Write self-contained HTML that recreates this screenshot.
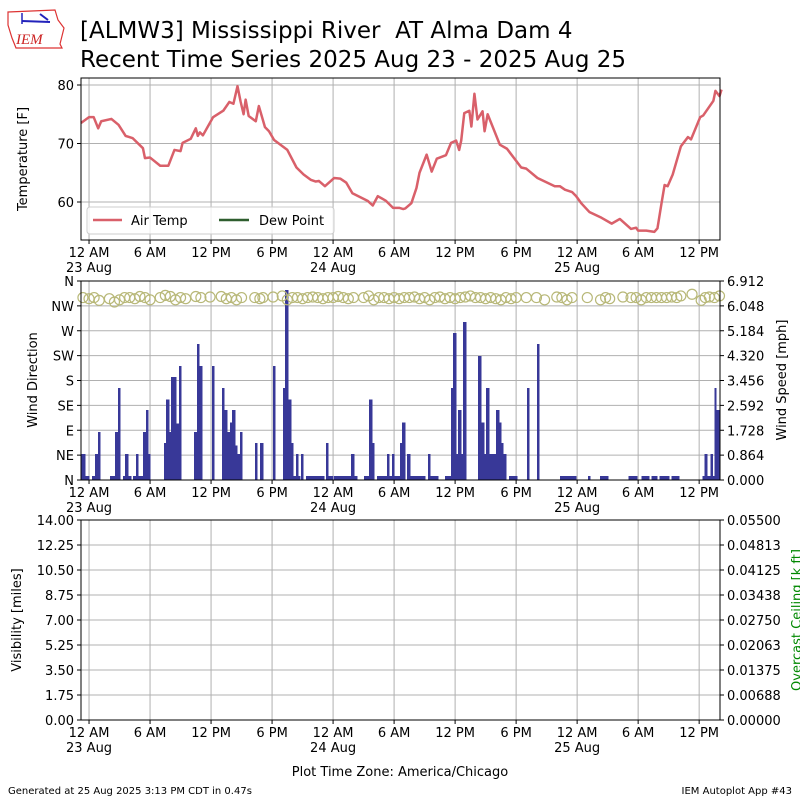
<!DOCTYPE html>
<html><head><meta charset="utf-8"><style>
body{margin:0;background:#fff;width:800px;height:800px;overflow:hidden}
svg{font-family:"DejaVu Sans","Liberation Sans",sans-serif}
</style></head><body>
<svg id="c" width="800" height="800" viewBox="0 0 800 800">
<g>
<path d="M8,12 L55,10 L58,20 L64,28 L60,44 L62,48 L16,48 L12,38 L8,25 Z" fill="#fff" stroke="#d33" stroke-width="1.2"/>
<line x1="22" y1="21" x2="50" y2="22" stroke="#22b" stroke-width="2"/>
<line x1="22" y1="13" x2="22" y2="24" stroke="#22b" stroke-width="1.5"/>
<line x1="40" y1="14" x2="48" y2="20" stroke="#22b" stroke-width="2"/>
<text x="16" y="44" font-family="Liberation Serif,serif" font-style="italic" font-size="15" fill="#c22">IEM</text>
</g>
<text x="80" y="38" font-size="23" style="white-space:pre">[ALMW3] Mississippi River&#160; AT Alma Dam 4</text>
<text x="80" y="67" font-size="23">Recent Time Series 2025 Aug 23 - 2025 Aug 25</text>
<text x="400" y="776" font-size="13" text-anchor="middle">Plot Time Zone: America/Chicago</text>
<text x="8" y="794" font-size="10">Generated at 25 Aug 2025 3:13 PM CDT in 0.47s</text>
<text x="792" y="794" font-size="10" text-anchor="end">IEM Autoplot App #43</text>
</svg>
<script>
const tempHours=[-0.79,0,0.46,0.9,1.2,2.2,2.9,3.6,4.3,5.3,5.5,6,7,7.8,8.4,9,9.2,10,10.5,10.7,10.9,11.2,12.2,13.2,13.8,14.2,14.6,14.9,15.2,15.4,15.7,16.4,16.7,17.3,17.7,18.2,19.5,20.4,21.1,21.8,22.3,22.6,23.2,24.1,24.7,25.3,25.9,27.4,27.9,28.4,29.2,29.9,30.5,30.9,31.1,31.7,32.2,32.5,33.2,33.7,34.2,35.1,35.6,36.1,36.4,36.6,36.9,37.4,37.6,37.9,38.2,38.7,38.9,39.2,40.4,41.1,41.8,42.5,43,44.1,45.8,46.3,46.8,47.5,47.9,48.4,49.2,50.4,51.4,52.2,53.3,53.8,54,54.8,55.6,55.9,56.3,56.6,56.9,57.4,58.2,58.9,59.2,60.1,60.4,61.4,61.6,62,62.2];
const tempValues=[73.5,74.5,74.5,72.6,73.8,74.2,73.2,71.3,70.9,69.2,67.5,67.6,66.2,66.2,68.9,68.7,70.1,70.8,72.6,71.3,71.9,71.4,74.5,75.6,77.1,76.8,79.8,77.2,75,77.5,74.7,73.8,76.4,72.8,72.1,70.6,68.9,65.9,64.7,63.8,63.5,63.6,62.7,64.1,64,63.3,61.5,60.2,59.4,61,60.2,59,59,58.8,58.9,59.8,62.4,65,68.1,65.2,67.4,68,70.1,70.5,68.9,70.5,75.2,75.6,72.9,78.5,74.1,75.5,72.1,75,69.8,69.1,67.5,65.9,65.7,64.1,62.7,62.7,62.1,61.7,61,59.8,58.3,57.3,56.3,57.1,55.4,55.6,55.1,55.1,54.9,55.5,59.8,62.9,62.7,64.7,69.5,71.1,70.7,74.5,74.8,77.3,79,78.1,79.2];
const windStart=[-0.79,-0.39,0.29,0.59,0.89,2.07,2.56,2.85,3.34,3.54,3.84,4.33,4.62,4.82,5.31,5.61,5.8,7.37,7.57,7.87,8.06,8.56,8.85,10.33,10.62,10.82,12.1,13.08,13.28,13.57,13.87,14.07,14.36,14.56,14.85,16.33,16.82,18.1,19.08,19.28,19.57,19.87,20.07,20.36,20.56,20.85,21.34,23.31,23.51,24.1,25.77,26.06,27.05,27.54,27.83,28.33,29.3,29.5,29.8,30.0,30.59,30.79,31.28,31.57,33.35,33.54,35.02,35.61,35.81,36.1,36.3,36.59,36.79,38.27,38.56,38.85,39.05,39.34,40.03,40.33,40.52,40.72,41.31,43.08,44.07,46.33,49.09,50.27,53.03,54.31,55.29,56.08,57.26,60.31,60.51,60.8,61.1,61.3,61.49,61.69];
const windEnd=[-0.39,0,0.59,0.89,1.08,2.56,2.85,3.05,3.54,3.84,4.13,4.62,4.82,5.31,5.61,5.8,6.0,7.57,7.87,8.06,8.56,8.85,9.05,10.62,10.82,11.11,12.3,13.28,13.57,13.87,14.07,14.36,14.56,14.85,15.05,16.52,17.11,18.29,19.28,19.57,19.87,20.07,20.36,20.56,20.75,21.05,23.11,23.51,24.0,25.77,26.06,26.36,27.54,27.83,28.03,29.3,29.5,29.8,30.0,30.59,30.79,31.08,31.57,33.06,33.54,34.33,35.61,35.81,36.1,36.3,36.59,36.79,37.09,38.56,38.85,39.05,39.34,40.03,40.33,40.52,40.72,41.01,42.1,43.28,44.27,47.91,49.29,51.06,53.91,55.1,55.88,57.06,58.05,60.51,60.8,61.1,61.3,61.49,61.69,62.08];
const windSpeed=[0.9,0.14,0.14,0.9,1.67,0.14,1.67,3.2,0.14,0.9,0.14,0.14,0.9,0.14,1.67,2.43,0.9,1.28,2.8,1.67,3.58,1.96,3.96,1.67,4.72,3.96,3.96,3.2,2.43,1.67,2.0,2.43,1.2,0.9,1.67,1.28,1.28,3.96,3.2,6.6,2.8,1.28,0.14,0.9,0.14,0.9,0.14,1.28,0.14,0.14,0.9,0.14,0.14,2.8,1.28,0.14,0.9,0.14,0.9,0.14,1.28,2.0,0.9,0.14,0.9,0.14,0.14,3.2,5.1,0.9,2.43,0.9,5.49,4.3,2.0,0.9,3.2,0.9,2.43,2.0,1.28,0.9,0.14,3.2,4.72,0.14,0.14,0.14,0.14,0.14,0.14,0.14,0.14,0.14,0.9,0.14,0.9,0.14,3.2,2.43];
const dirHours=[-0.6,0,0.5,1,2,2.5,3,3.5,4,4.5,5,5.5,6,7,7.5,8,8.5,9,9.5,10.5,11,11.9,13,13.5,14,14.5,15,16.3,16.8,17.1,18.1,19,19.5,20,20.5,21,21.5,22,22.5,23,23.5,24,24.5,25,25.5,26,27,27.5,28,28.5,29,29.5,30,30.5,31,31.5,32,32.5,33,33.5,34,34.5,35,35.5,36,36.5,37,37.5,38,38.5,39,39.5,40,40.5,41,41.5,42,43,44,44.8,46,46.5,47,47.5,49,50.3,50.8,51.2,52.5,53.3,53.8,54.3,54.8,55.3,55.8,56.3,56.8,57.3,57.8,58.2,59.3,60.2,60.6,61,61.5,62];
const dirValues=[330,328,330,325,328,322,326,330,330,328,332,330,326,330,334,332,326,330,328,332,330,331,332,328,330,326,330,330,328,330,331,333,326,330,330,328,330,331,330,328,330,330,332,330,328,330,330,333,326,330,330,328,330,328,330,330,331,328,330,326,330,331,328,330,328,330,331,333,330,330,328,330,328,326,330,328,330,330,330,326,331,330,326,330,330,326,330,328,331,330,330,326,330,330,330,330,330,331,330,333,336,325,330,331,330,333];
const xTickHours=[0,6,12,18,24,30,36,42,48,54,60];
const xTickLabels=["12 AM","6 AM","12 PM","6 PM","12 AM","6 AM","12 PM","6 PM","12 AM","6 AM","12 PM"];
const xTickDates=["23 Aug","","","","24 Aug","","","","25 Aug","",""];
const tempTicks=[60,70,80];
const dirLabels=["N","NE","E","SE","S","SW","W","NW","N"];
const speedTicks=["0.000","0.864","1.728","2.592","3.456","4.320","5.184","6.048","6.912"];
const visTicks=["0.00","1.75","3.50","5.25","7.00","8.75","10.50","12.25","14.00"];
const ceilTicks=["0.00000","0.00688","0.01375","0.02063","0.02750","0.03438","0.04125","0.04813","0.05500"];

const svg=document.getElementById('c');
const NS='http://www.w3.org/2000/svg';
function mk(tag,attrs,parent){const e=document.createElementNS(NS,tag);for(const k in attrs)e.setAttribute(k,attrs[k]);(parent||svg).appendChild(e);return e;}
const L=81,R=720,H0=-0.79,H1=62.05;
const X=h=>L+(h-H0)/(H1-H0)*(R-L);
const panels=[{t:78,b:240},{t:281,b:480},{t:520,b:720}];
function grid(p){
  for(const h of xTickHours){const l=mk('line',{x1:X(h),x2:X(h),y1:p.t,y2:p.b,stroke:'#b0b0b0','stroke-width':1});
    }
}
function xTicks(p,name){
  const g=mk('g',{});
  xTickHours.forEach((h,i)=>{mk('line',{x1:X(h),x2:X(h),y1:p.b,y2:p.b+4,stroke:'#000'},g);
    const t=mk('text',{x:X(h),y:p.b+17,'font-size':13,'text-anchor':'middle'},g);t.textContent=xTickLabels[i];
    if(xTickDates[i]){const d=mk('text',{x:X(h),y:p.b+32,'font-size':13,'text-anchor':'middle'},g);d.textContent=xTickDates[i];}});
}
function frame(p,name){const r=mk('rect',{x:L,y:p.t,width:R-L,height:p.b-p.t,fill:'none',stroke:'#000','stroke-width':1});}
function ylab(text,x,y,name,color){const t=mk('text',{x:x,y:y,'font-size':13,'text-anchor':'middle',transform:`rotate(-90 ${x} ${y})`,fill:color||'#000'});t.textContent=text;}

const p1=panels[0];const TY=v=>85+(80-v)*5.85;
grid(p1);
tempTicks.forEach(v=>{const l=mk('line',{x1:L,x2:R,y1:TY(v),y2:TY(v),stroke:'#b0b0b0'});
  mk('line',{x1:L-4,x2:L,y1:TY(v),y2:TY(v),stroke:'#000'});const t=mk('text',{x:L-7,y:TY(v)+5,'font-size':13,'text-anchor':'end'});t.textContent=v;});
const line=mk('polyline',{points:tempHours.map((h,i)=>X(h)+','+TY(tempValues[i])).join(' '),fill:'none',stroke:'#d9606a','stroke-width':2.5,'stroke-linejoin':'round'});

frame(p1,'temperature-panel');xTicks(p1,'temp-x-axis');
ylab('Temperature [F]',27,159,'temperature-axis-title');
const lg=mk('g',{});
mk('rect',{x:87,y:207,width:247,height:27,rx:3,fill:'#fff','fill-opacity':0.8,stroke:'#ccc'},lg);
mk('line',{x1:93,x2:122,y1:220,y2:220,stroke:'#d9606a','stroke-width':2.5},lg);
const lt1=mk('text',{x:131,y:225,'font-size':13},lg);lt1.textContent='Air Temp';
mk('line',{x1:219,x2:249,y1:220,y2:220,stroke:'#2e5e2e','stroke-width':2.5},lg);
const lt2=mk('text',{x:259,y:225,'font-size':13},lg);lt2.textContent='Dew Point';

const p2=panels[1];const SY=v=>p2.b-v/6.912*(p2.b-p2.t);const DY=d=>p2.b-d/360*(p2.b-p2.t);
grid(p2);
dirLabels.forEach((lab,i)=>{const y=p2.b-i*(p2.b-p2.t)/8;
  const l=mk('line',{x1:L,x2:R,y1:y,y2:y,stroke:'#b0b0b0'});
  mk('line',{x1:L-4,x2:L,y1:y,y2:y,stroke:'#000'});const t=mk('text',{x:L-7,y:y+5,'font-size':13,'text-anchor':'end'});t.textContent=lab;
  mk('line',{x1:R,x2:R+4,y1:y,y2:y,stroke:'#000'});const t2=mk('text',{x:R+7,y:y+5,'font-size':13});t2.textContent=speedTicks[i];});
windStart.forEach((s,i)=>{const r=mk('rect',{x:X(s),y:SY(windSpeed[i]),width:Math.max(X(windEnd[i])-X(s),0.8)+0.4,height:p2.b-SY(windSpeed[i]),fill:'#383898','shape-rendering':'crispEdges'});
  });
dirHours.forEach((h,i)=>{const c=mk('circle',{cx:X(h),cy:DY(dirValues[i]),r:5,fill:'none',stroke:'#b8b878','stroke-width':1.2});
  });
frame(p2,'wind-panel');xTicks(p2,'wind-x-axis');
ylab('Wind Direction',37,380,'wind-direction-axis-title');
ylab('Wind Speed [mph]',786,380,'wind-speed-axis-title');

const p3=panels[2];
grid(p3);
visTicks.forEach((lab,i)=>{const y=p3.b-i*(p3.b-p3.t)/8;
  const l=mk('line',{x1:L,x2:R,y1:y,y2:y,stroke:'#b0b0b0'});
  mk('line',{x1:L-4,x2:L,y1:y,y2:y,stroke:'#000'});const t=mk('text',{x:L-7,y:y+5,'font-size':13,'text-anchor':'end'});t.textContent=lab;
  mk('line',{x1:R,x2:R+4,y1:y,y2:y,stroke:'#000'});const t2=mk('text',{x:R+7,y:y+5,'font-size':13});t2.textContent=ceilTicks[i];});
frame(p3,'visibility-panel');xTicks(p3,'visibility-x-axis');
ylab('Visibility [miles]',21,620,'visibility-axis-title');
ylab('Overcast Ceiling [k ft]',801,620,'ceiling-axis-title','#080');
</script>
</body></html>
